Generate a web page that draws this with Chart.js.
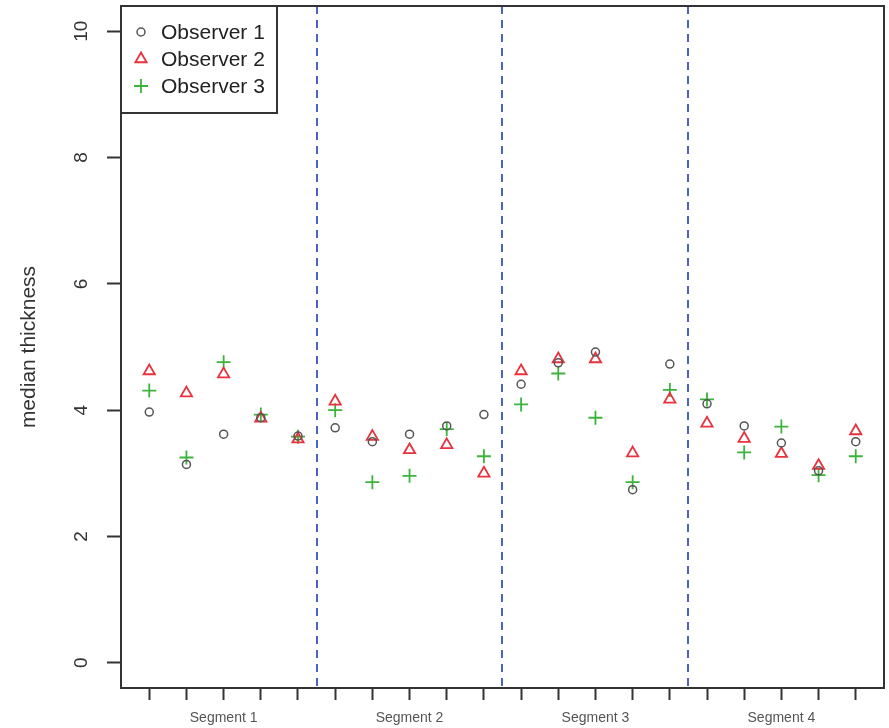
<!DOCTYPE html>
<html>
<head>
<meta charset="utf-8">
<script src="https://cdn.jsdelivr.net/npm/chart.js@4"></script>
<style>
    body { margin: 0; background: #fff; }
    canvas { display: block; }
</style>
</head>
<body>
<canvas id="myChart" width="889" height="728"></canvas>
<script>
let positions = [1, 2, 3, 4, 5, 6, 7, 8, 9, 10, 11, 12, 13, 14, 15, 16, 17, 18, 19, 20];
let observer1 = [3.97, 3.14, 3.62, 3.88, 3.59, 3.72, 3.50, 3.62, 3.75, 3.93, 4.41, 4.75, 4.92, 2.74, 4.73, 4.10, 3.75, 3.48, 3.04, 3.50];
let observer2 = [4.62, 4.27, 4.57, 3.87, 3.54, 4.14, 3.58, 3.37, 3.45, 3.00, 4.62, 4.81, 4.81, 3.32, 4.17, 3.79, 3.55, 3.31, 3.12, 3.67];
let observer3 = [4.31, 3.25, 4.76, 3.93, 3.58, 4.00, 2.86, 2.96, 3.70, 3.27, 4.09, 4.58, 3.88, 2.86, 4.32, 4.17, 3.33, 3.74, 2.97, 3.27];
let segmentLabels = ['Segment 1', 'Segment 2', 'Segment 3', 'Segment 4'];
let segmentCenters = [3, 8, 13, 18];
let segmentBreaks = [5.5, 10.5, 15.5];
let yTicks = [0, 2, 4, 6, 8, 10];
let seriesNames = ['Observer 1', 'Observer 2', 'Observer 3'];

const FONT = '"Liberation Sans", Arial, sans-serif';
const styles = [
    { pointStyle: 'circle', radius: 4, color: '#555555', width: 1.5 },
    { pointStyle: 'triangle', radius: 6.5, color: '#e8323c', width: 1.8 },
    { pointStyle: 'cross', radius: 7, color: '#3cb43c', width: 1.8 }
];


function toPoints(values) {
    return positions.map((x, i) => ({ x: x, y: values[i] }));
}


function makeDataset(name, values, style) {
    return {
        label: name,
        data: toPoints(values),
        pointStyle: style.pointStyle,
        pointRadius: style.radius,
        pointHoverRadius: style.radius,
        borderColor: style.color,
        backgroundColor: 'rgba(0,0,0,0)',
        pointBorderWidth: style.width
    };
}

/*Extra drawing: breaks, box, y labels, legend*/

const extrasPlugin = {
    id: 'extras',
    beforeDatasetsDraw(chart) {
        const { ctx, chartArea, scales } = chart;
        ctx.save();
        ctx.strokeStyle = '#4a64c4';
        ctx.lineWidth = 2;
        ctx.setLineDash([8, 6]);
        for (let b of segmentBreaks) {
            const px = Math.round(scales.x.getPixelForValue(b));
            ctx.beginPath();
            ctx.moveTo(px, chartArea.top);
            ctx.lineTo(px, chartArea.bottom);
            ctx.stroke();
        }
        ctx.restore();
    },
    afterDraw(chart) {
        const { ctx, chartArea, scales } = chart;
        ctx.save();
        // y tick labels, rotated like R
        ctx.fillStyle = '#333';
        ctx.font = '19px ' + FONT;
        ctx.textAlign = 'center';
        ctx.textBaseline = 'middle';
        for (let t of yTicks) {
            const py = scales.y.getPixelForValue(t);
            ctx.save();
            ctx.translate(82, py);
            ctx.rotate(-Math.PI / 2);
            ctx.fillText(String(t), 0, 0);
            ctx.restore();
        }
        // plot box
        ctx.strokeStyle = '#333';
        ctx.lineWidth = 2;
        ctx.strokeRect(chartArea.left, chartArea.top, chartArea.right - chartArea.left, chartArea.bottom - chartArea.top);
        // legend
        const lx = chartArea.left, ly = chartArea.top;
        ctx.fillStyle = '#fff';
        ctx.fillRect(lx, ly, 156, 107);
        ctx.strokeRect(lx, ly, 156, 107);
        ctx.font = '21px ' + FONT;
        ctx.textAlign = 'left';
        for (let i = 0; i < seriesNames.length; i++) {
            const rowY = ly + 26 + i * 27;
            ctx.strokeStyle = styles[i].color;
            ctx.fillStyle = 'rgba(0,0,0,0)';
            ctx.lineWidth = styles[i].width;
            Chart.helpers.drawPoint(ctx, {
                pointStyle: styles[i].pointStyle,
                radius: styles[i].radius,
                rotation: 0,
                borderWidth: styles[i].width
            }, lx + 20, rowY);
            ctx.fillStyle = '#222';
            ctx.fillText(seriesNames[i], lx + 40, rowY + 1);
        }
        ctx.restore();
    }
};


function setChart() {
    const ctx = document.getElementById('myChart');
    new Chart(ctx, {
        type: 'scatter',
        data: {
            datasets: [
                makeDataset(seriesNames[0], observer1, styles[0]),
                makeDataset(seriesNames[1], observer2, styles[1]),
                makeDataset(seriesNames[2], observer3, styles[2])
            ]
        },
        options: {
            responsive: false,
            animation: false,
            layout: { autoPadding: false, padding: { top: 6, right: 5, left: 0, bottom: 0 } },
            plugins: {
                legend: { display: false },
                tooltip: { enabled: false }
            },
            scales: {
                x: {
                    type: 'linear',
                    min: 0.24,
                    max: 20.76,
                    afterBuildTicks: (scale) => {
                        scale.ticks = positions.map(v => ({ value: v }));
                    },
                    afterFit: (scale) => { scale.height = 40; },
                    border: { display: false },
                    grid: {
                        drawOnChartArea: false,
                        drawTicks: true,
                        tickLength: 12,
                        tickWidth: 2,
                        tickColor: '#333'
                    },
                    ticks: {
                        autoSkip: false,
                        maxRotation: 0,
                        minRotation: 0,
                        padding: 10,
                        color: '#555',
                        font: { family: FONT, size: 14 },
                        callback: (value) => {
                            const k = segmentCenters.indexOf(value);
                            return k >= 0 ? segmentLabels[k] : '';
                        }
                    }
                },
                y: {
                    min: -0.4,
                    max: 10.4,
                    afterBuildTicks: (scale) => {
                        scale.ticks = yTicks.map(v => ({ value: v }));
                    },
                    afterFit: (scale) => { scale.width = 121; },
                    border: { display: false },
                    grid: {
                        drawOnChartArea: false,
                        drawTicks: true,
                        tickLength: 14,
                        tickWidth: 2,
                        tickColor: '#333'
                    },
                    ticks: { display: false },
                    title: {
                        display: true,
                        text: 'median thickness',
                        color: '#333',
                        font: { family: FONT, size: 21 },
                        padding: { top: 17, bottom: 0 }
                    }
                }
            }
        },
        plugins: [extrasPlugin]
    });
}

setChart();
</script>
</body>
</html>
